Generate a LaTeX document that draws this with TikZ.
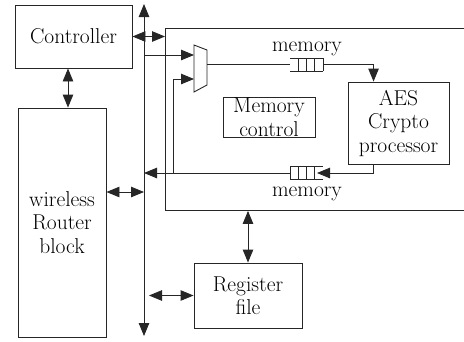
\documentclass[tikz,border=0pt]{standalone}
\usetikzlibrary{arrows.meta}

\begin{document}
\begin{tikzpicture}[x=1pt,y=-1pt,
  box/.style={draw=black!85, line width=0.9pt, align=center, inner sep=0pt,
    font=\fontsize{21.5}{23.5}\selectfont},
  lbl/.style={inner sep=0pt, anchor=base, font=\fontsize{21.5}{23.5}\selectfont},
  wire/.style={draw=black!85, line width=0.9pt},
  >={Triangle[length=13pt,width=10.5pt]}]
\clip (0,0) rectangle (464,341);

% blocks
\node[box, minimum width=117pt, minimum height=63pt] (ctrl) at (73.5,36.5) {Controller};
\node[box, minimum width=88pt, minimum height=229pt] (router) at (62,222.5) {wireless\\Router\\block};
\node[box, minimum width=320pt, minimum height=182pt, anchor=north west] (core) at (165,28) {};
\node[box, minimum width=92pt, minimum height=40pt] (memctl) at (269,117) {Memory\\control};
\node[box, minimum width=101pt, minimum height=82pt] (aes) at (398.5,123) {AES\\Crypto\\processor};
\node[box, minimum width=108pt, minimum height=65pt] (reg) at (248,295.5) {Register\\file};

% system bus
\coordinate (busT) at (144,4);
\coordinate (busB) at (144,336);
\draw[wire,<->] (busT) -- (busB);

\draw[wire,<->] (ctrl.east) -- (ctrl.east -| core.west);
\draw[wire,<->] ([xshift=-5.5pt]ctrl.south) -- ([xshift=-5.5pt]ctrl.south |- router.north);
\draw[wire,<->] (router.east |- 0,192) -- (busT |- 0,192);
\draw[wire,<->,shorten <=5pt] (reg.west -| busT) -- (reg.west);
\draw[wire,<->] (reg.north |- core.south) -- (reg.north);

% mux
\draw[wire] (194,45) -- (207,50) -- (207,85) -- (194,92) -- cycle;
\coordinate (muxA) at (194,55);
\coordinate (muxB) at (194,79);
\coordinate (muxO) at (207,64.5);

% fifo into the crypto core
\coordinate (qtopIn) at (290,64.5);
\coordinate (qtopOut) at (323,64.5);
\draw[wire] (290,58) -- (323,58) (290,71) -- (323,71);
\foreach \x in {298,306,314,323}
  \draw[wire] (\x,58) -- (\x,71);
\node[lbl] (memtop) at (307,51) {memory};

% fifo out of the crypto core
\coordinate (qbotIn) at (317,173);
\coordinate (qbotOut) at (290,173);
\draw[wire] (290,166.5) -- (323,166.5) (290,179.5) -- (323,179.5);
\foreach \x in {290,298,306,314}
  \draw[wire] (\x,166.5) -- (\x,179.5);
\node[lbl] (membot) at (307,196) {memory};

% data path
\draw[wire,->] (busT |- muxA) -- (muxA);
\draw[wire] (muxO) -- (qtopIn);
\draw[wire,->] (qtopOut) -| ([xshift=26pt]aes.north west);
\draw[wire,->] ([xshift=26pt]aes.south west) |- (qbotIn);
\draw[wire,->] (qbotOut) -- (qbotOut -| busT);
\coordinate (tap) at (173,173);
\draw[wire,->] (tap) |- (muxB);
\end{tikzpicture}
\end{document}
